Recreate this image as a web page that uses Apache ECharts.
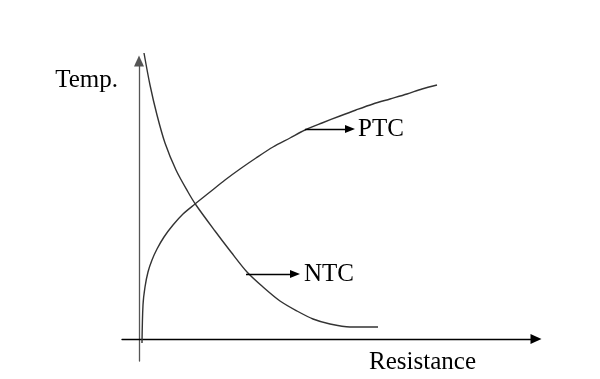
<!DOCTYPE html>
<html>
<head>
<meta charset="utf-8">
<script src="https://cdn.jsdelivr.net/npm/echarts@6/dist/echarts.min.js"></script>
<style>
html,body{margin:0;padding:0;background:#fff;}
#chart{width:600px;height:379px;}
</style>
</head>
<body>
<div id="chart"></div>
<script>
// Axis titles
const xAxisTitle = 'Resistance';
const yAxisTitle = 'Temp.';
// NTC curve (resistance, temperature), arbitrary units
const ntcResistance = [0.5, 1.1, 1.8, 2.6, 3.7, 4.9, 5.7, 7.6, 9.2, 10.8, 12.4, 14.1, 15.8, 17.4, 19.1, 21.1, 23.9];
const ntcTemp       = [28.6, 25.4, 22.4, 19.6, 16.9, 14.7, 13.4, 10.8, 8.7, 6.7, 5.2, 3.8, 2.8, 2.0, 1.5, 1.2, 1.2];
// PTC curve
const ptcResistance = [0.3, 0.4, 0.6, 0.9, 1.3, 1.8, 2.5, 3.4, 4.4, 5.6, 7.1, 8.6, 10.1, 11.7, 13.4, 15.1, 16.6, 18.3, 20.1, 21.7, 23.4, 25.1, 26.8, 28.3, 29.8];
const ptcTemp       = [-0.4, 3.4, 5.2, 6.7, 7.9, 9.0, 10.2, 11.4, 12.5, 13.5, 14.7, 15.9, 17.0, 18.1, 19.2, 20.1, 20.9, 21.6, 22.3, 22.9, 23.5, 24.0, 24.5, 25.0, 25.4];
// Annotation arrows: [startX, endX, y] and labels
const ptcArrow = [16.6, 21.1, 21.0];
const ntcArrow = [10.7, 15.6, 6.5];
const curveLabels = ['PTC', 'NTC'];

const zip = (a, b) => a.map((v, i) => [v, b[i]]);
const font = 'Liberation Serif';
const fontSize = 25;

function arrowLine(arr, text, dist) {
  return {
    silent: true,
    symbol: ['none', 'triangle'],
    symbolSize: [8, 10],
    lineStyle: { color: '#000', width: 1.3, type: 'solid' },
    label: {
      show: true, position: 'end', distance: dist, formatter: text,
      color: '#000', fontFamily: font, fontSize: fontSize
    },
    emphasis: { disabled: true },
    data: [[{ coord: [arr[0], arr[2]] }, { coord: [arr[1], arr[2]] }]]
  };
}

const chart = echarts.init(document.getElementById('chart'), null, { renderer: 'canvas' });
chart.setOption({
  backgroundColor: '#fff',
  animation: false,
  grid: { left: 122, right: 64, top: 61, bottom: 18 },
  xAxis: {
    type: 'value', min: -1.7, max: 39.7,
    name: xAxisTitle, nameLocation: 'end', nameGap: -60,
    nameTextStyle: { fontFamily: font, fontSize: fontSize, color: '#000', align: 'right', verticalAlign: 'top', padding: [11, 0, 0, 0] },
    axisLine: { show: true, onZero: true, symbol: ['none', 'triangle'], symbolSize: [10, 11], lineStyle: { color: '#000', width: 1.3 } },
    axisTick: { show: false }, axisLabel: { show: false }, splitLine: { show: false }
  },
  yAxis: {
    type: 'value', min: -2.2, max: 27.8,
    name: yAxisTitle, nameLocation: 'end', nameGap: -19,
    nameTextStyle: { fontFamily: font, fontSize: fontSize, color: '#000', align: 'right', verticalAlign: 'middle', padding: [0, 21, 0, 0] },
    axisLine: { show: true, onZero: true, symbol: ['none', 'triangle'], symbolSize: [10, 11], lineStyle: { color: '#555', width: 1.3 } },
    axisTick: { show: false }, axisLabel: { show: false }, splitLine: { show: false }
  },
  series: [
    {
      type: 'line', name: curveLabels[0], data: zip(ptcResistance, ptcTemp),
      smooth: 0.3, showSymbol: false, clip: false, silent: true,
      lineStyle: { color: '#333', width: 1.4 },
      markLine: arrowLine(ptcArrow, curveLabels[0], 8)
    },
    {
      type: 'line', name: curveLabels[1], data: zip(ntcResistance, ntcTemp),
      smooth: 0.3, showSymbol: false, clip: false, silent: true,
      lineStyle: { color: '#333', width: 1.4 },
      markLine: arrowLine(ntcArrow, curveLabels[1], 9)
    }
  ]
});
</script>
</body>
</html>
